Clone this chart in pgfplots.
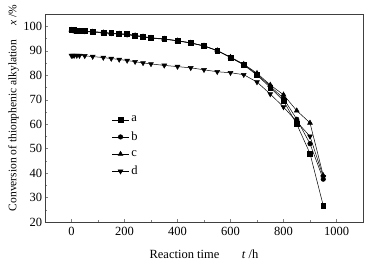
\documentclass[border=0pt]{standalone}
\usepackage{pgfplots}
\pgfplotsset{compat=1.18}
\usepackage{fontspec}
\setmainfont{Liberation Serif}
\begin{document}
\fontsize{12.5bp}{14bp}\selectfont
\begin{tikzpicture}
\begin{axis}[
  name=ax,
  scale only axis,
  width=318bp, height=208bp,
  xmin=-100, xmax=1100, ymin=20, ymax=105,
  xtick={0,200,...,1000}, ytick={20,30,...,100},
  minor xtick={-100,100,300,500,700,900,1100},
  minor ytick={25,35,...,105},
  tick pos=left,
  tick align=inside,
  major tick length=3bp, minor tick length=2bp,
  /pgf/number format/assume math mode=true,
  /pgf/number format/1000 sep={},
  tick label style={font=\fontsize{12.5bp}{14bp}\selectfont},
  xticklabel style={yshift=-1bp},
  yticklabel style={xshift=1.5bp},
  axis line style={line width=0.5pt, draw=black!75},
  xlabel={Reaction time\hspace{1.8em}\textit{t} /h},
  ylabel={Conversion of thionphenic alkylation\hspace{1.2em}\textit{x} /\%},
  xlabel style={yshift=-5bp},
  ylabel style={yshift=-4bp, xshift=10bp, font=\fontsize{11.5bp}{13bp}\selectfont},
  legend style={draw=none, fill=none, at={(0.2,0.53)}, anchor=north west, row sep=4bp,
    font=\fontsize{12.5bp}{14bp}\selectfont},
  legend cell align=left,
  every axis plot/.append style={black, line width=0.5pt, mark options={fill=black, solid}},
]
\addplot[mark=square*, mark size=2.5pt] coordinates {
(0,98.6) (5,98.5) (10,98.4) (20,98.2) (30,98.1) (50,98.0) (80,97.8) (120,97.5) (150,97.2) (180,97.0)
(210,96.8) (240,96.3) (270,95.8) (300,95.3) (350,94.8) (400,94.1) (450,93.2) (500,92.0) (550,90.0)
(600,87.2) (650,84.2) (700,80.0) (750,75.0) (800,69.5) (850,60.0) (900,48.0) (950,26.7)};
\addlegendentry{a}
\addplot[mark=*, mark size=2.3pt] coordinates {
(0,98.3) (5,98.2) (10,98.1) (20,98.0) (30,97.9) (50,97.8) (80,97.6) (120,97.3) (150,97.0) (180,96.8)
(210,96.5) (240,96.1) (270,95.6) (300,95.1) (350,94.7) (400,94.0) (450,93.1) (500,91.9) (550,90.0)
(600,87.3) (650,84.3) (700,80.4) (750,75.5) (800,70.5) (850,62.0) (900,52.0) (950,37.5)};
\addlegendentry{b}
\addplot[mark=triangle*, mark size=2.8pt] coordinates {
(0,98.4) (5,98.3) (10,98.2) (20,98.1) (30,98.0) (50,97.9) (80,97.7) (120,97.4) (150,97.1) (180,96.9)
(210,96.6) (240,96.2) (270,95.7) (300,95.2) (350,94.8) (400,94.1) (450,93.2) (500,92.0) (550,90.1)
(600,87.4) (650,84.5) (700,80.8) (750,76.0) (800,72.0) (850,65.5) (900,60.5) (950,39.0)};
\addlegendentry{c}
\addplot[mark=triangle*, mark options={rotate=180}, mark size=2.8pt] coordinates {
(0,88.0) (5,88.0) (10,88.0) (20,88.0) (30,88.0) (50,87.9) (80,87.6) (120,87.2) (150,86.8) (180,86.4)
(210,86.0) (240,85.5) (270,85.0) (300,84.6) (350,84.0) (400,83.5) (450,83.0) (500,82.2) (550,81.4)
(600,81.0) (650,80.2) (700,77.2) (750,72.3) (800,67.0) (850,61.0) (900,55.0) (950,38.5)};
\addlegendentry{d}
\end{axis}
\path (ax.south west) ++(-45bp,-41bp);
\path (ax.north east) ++(5bp,14bp);
\end{tikzpicture}
\end{document}
